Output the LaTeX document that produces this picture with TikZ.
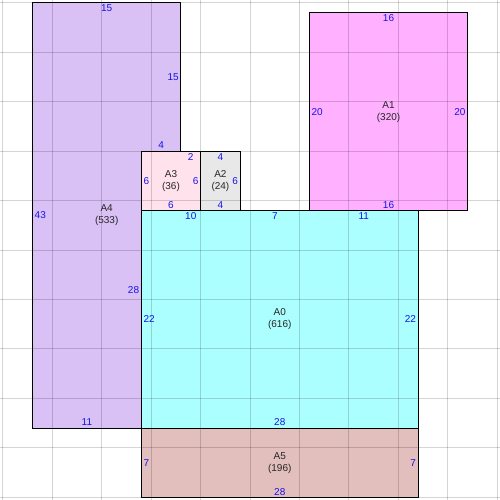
\documentclass[tikz,border=0pt]{standalone}
\usepackage{fontspec}
\setmainfont{Liberation Sans}
\definecolor{cA0}{RGB}{172,255,255}
\definecolor{cA1}{RGB}{255,176,255}
\definecolor{cA2}{RGB}{232,232,232}
\definecolor{cA3}{RGB}{255,226,236}
\definecolor{cA4}{RGB}{217,192,245}
\definecolor{cA5}{RGB}{226,190,188}
\definecolor{labblue}{RGB}{20,20,235}
\begin{document}
\begin{tikzpicture}[x=9.89pt,y=-9.89pt,
  gridline/.style={black,opacity=0.17,line width=1pt},
  border/.style={black,line width=1pt,line join=miter},
  lab/.style={text=labblue,inner sep=2pt,font=\fontsize{10}{12}\selectfont},
  nm/.style={text=black!85,align=center,inner sep=0pt,font=\fontsize{10}{12}\selectfont}]
\useasboundingbox (-0.288,-0.288) rectangle (50.27,50.27);
\fill[white] (-0.288,-0.288) rectangle (50.27,50.27);
% fills
\fill[cA4] (3,0) -- (18,0) -- (18,15) -- (14,15) -- (14,43) -- (3,43) -- cycle;
\fill[cA1] (31,1) rectangle (47,21);
\fill[cA3] (14,15) rectangle (20,21);
\fill[cA2] (20,15) rectangle (24,21);
\fill[cA0] (14,21) rectangle (42,43);
\fill[cA5] (14,43) rectangle (42,50);
% grid
\foreach \i in {0,5,...,50} {
  \draw[gridline] (\i,-0.4) -- (\i,50.4);
  \draw[gridline] (-0.4,\i) -- (50.4,\i);
}
% borders
\draw[border] (3,0) -- (18,0) -- (18,15) -- (14,15) -- (14,43) -- (3,43) -- cycle;
\draw[border] (31,1) rectangle (47,21);
\draw[border] (14,15) rectangle (20,21);
\draw[border] (20,15) rectangle (24,21);
\draw[border] (14,21) rectangle (42,43);
\draw[border] (14,43) rectangle (42,50);
% A4
\node[lab,anchor=north] (a4t) at (10.5,0) {15};
\node[lab,anchor=east] (a4r1) at (18,7.5) {15};
\node[lab,anchor=south] (a4s) at (16,15) {4};
\node[lab,anchor=east] (a4r2) at (14,29) {28};
\node[lab,anchor=south] (a4b) at (8.5,43) {11};
\node[lab,anchor=west] (a4l) at (3,21.5) {43};
\node[nm] (a4n) at (10.5,21.5) {A4\\(533)};
% A1
\node[lab,anchor=north] (a1t) at (39,1) {16};
\node[lab,anchor=west] (a1l) at (31,11) {20};
\node[lab,anchor=east] (a1r) at (47,11) {20};
\node[lab,anchor=south] (a1b) at (39,21) {16};
\node[nm] (a1n) at (39,11) {A1\\(320)};
% A3
\node[lab,anchor=north] (a3t) at (19,15) {2};
\node[lab,anchor=west] (a3l) at (14,18) {6};
\node[lab,anchor=east] (a3r) at (20,18) {6};
\node[lab,anchor=south] (a3b) at (17,21) {6};
\node[nm] (a3n) at (17,18) {A3\\(36)};
% A2
\node[lab,anchor=north] (a2t) at (22,15) {4};
\node[lab,anchor=east] (a2r) at (24,18) {6};
\node[lab,anchor=south] (a2b) at (22,21) {4};
\node[nm] (a2n) at (22,18) {A2\\(24)};
% A0
\node[lab,anchor=north] (a0t1) at (19,21) {10};
\node[lab,anchor=north] (a0t2) at (27.5,21) {7};
\node[lab,anchor=north] (a0t3) at (36.5,21) {11};
\node[lab,anchor=west] (a0l) at (14,32) {22};
\node[lab,anchor=east] (a0r) at (42,32) {22};
\node[lab,anchor=south] (a0b) at (28,43) {28};
\node[nm] (a0n) at (28,32) {A0\\(616)};
% A5
\node[lab,anchor=west] (a5l) at (14,46.5) {7};
\node[lab,anchor=east] (a5r) at (42,46.5) {7};
\node[lab,anchor=south] (a5b) at (28,50) {28};
\node[nm] (a5n) at (28,46.5) {A5\\(196)};
\end{tikzpicture}
\end{document}
